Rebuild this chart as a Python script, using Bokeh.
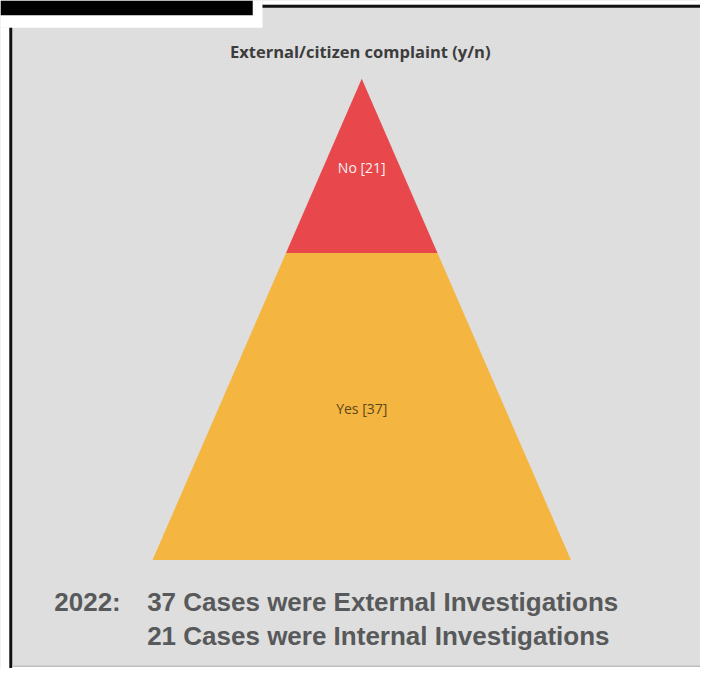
from bokeh.plotting import figure
from bokeh.models import Range1d, ColumnDataSource
from bokeh.core.properties import value
from bokeh.embed import file_html
from bokeh.resources import INLINE

# ---- data ----
title_text = "External/citizen complaint (y/n)"
categories = ["No", "Yes"]          # top to bottom
counts = [21, 37]
colors = ["#E8474B", "#F5B541"]
label_colors = ["#F4F0F0", "#5A481C"]
year_label = "2022:"
summary_lines = ["37 Cases were External Investigations",
                 "21 Cases were Internal Investigations"]

# layout in reference-image units (716 x 684), scaled to the figure
RW, RH = 716, 684
W, H = 700, 668
p = figure(width=W, height=H, output_backend="svg", toolbar_location=None,
           x_range=Range1d(0, RW), y_range=Range1d(RH, 0),
           min_border=0, background_fill_color="#DEDEDE",
           border_fill_color="#DEDEDE", outline_line_color=None)
p.axis.visible = False
p.grid.visible = False

# decorative frame (screenshot edges)
p.quad(left=0, right=268, top=0, bottom=28, fill_color="white", line_color=None)
p.quad(left=0, right=258, top=0, bottom=15, fill_color="black", line_color=None)
p.quad(left=268, right=RW, top=4, bottom=7.5, fill_color="#111111", line_color=None)
p.quad(left=268, right=RW, top=0, bottom=4, fill_color="white", line_color=None)
p.quad(left=0, right=9, top=28, bottom=RH, fill_color="white", line_color=None)
p.quad(left=9, right=12, top=28, bottom=RH, fill_color="#111111", line_color=None)
p.quad(left=12, right=RW, top=681, bottom=682.5, fill_color="#BDBDBD", line_color=None)
p.quad(left=12, right=RW, top=682.5, bottom=RH, fill_color="white", line_color=None)

# pyramid geometry (layout)
cx, apex_y, base_y, half_base = 369.5, 80, 573, 214
total = sum(counts)
xs, ys, lx, ly = [], [], [], []
cum = 0
for c in counts:
    f0 = cum / total
    f1 = (cum + c) / total
    y0 = apex_y + f0 * (base_y - apex_y)
    y1 = apex_y + f1 * (base_y - apex_y)
    w0 = half_base * f0
    w1 = half_base * f1
    xs.append([cx - w0, cx + w0, cx + w1, cx - w1])
    ys.append([y0, y0, y1, y1])
    lx.append(cx)
    ly.append((y0 + y1) / 2 + 2)
    cum += c

src = ColumnDataSource(dict(xs=xs, ys=ys, color=colors, lx=lx, ly=ly,
                            label=[f"{k} [{v}]" for k, v in zip(categories, counts)],
                            lc=label_colors))
p.patches("xs", "ys", source=src, fill_color="color", line_color=None)
p.text("lx", "ly", text="label", source=src, text_color="lc",
       text_font=value("Open Sans"), text_font_size="14px",
       text_align="center", text_baseline="middle")

p.text(x=[368], y=[52], text=[title_text], text_font=value("Open Sans"),
       text_font_size="16.5px", text_font_style="bold", text_color="#3C3C3C",
       text_align="center", text_baseline="middle")

p.text(x=[55], y=[616], text=[year_label], text_font=value("Liberation Sans"),
       text_font_size="26px", text_font_style="bold", text_color="#58595B",
       text_align="left", text_baseline="middle")
p.text(x=[150, 150], y=[616, 651], text=summary_lines,
       text_font=value("Liberation Sans"),
       text_font_size="26px", text_font_style="bold", text_color="#58595B",
       text_align="left", text_baseline="middle")

open("out.html", "w").write(file_html(p, INLINE))
